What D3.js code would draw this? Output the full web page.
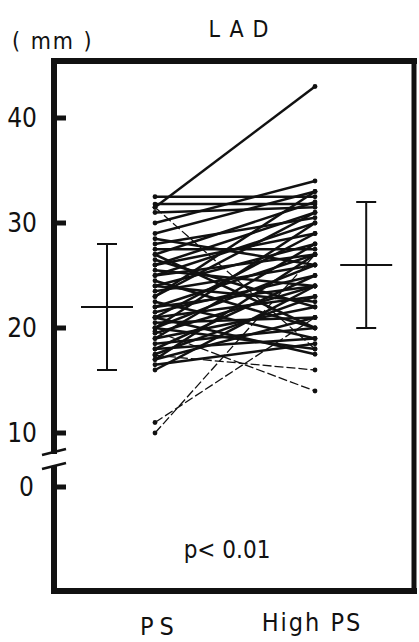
<!DOCTYPE html>
<html>
<head>
<meta charset="utf-8">
<script src="https://cdn.jsdelivr.net/npm/d3@7/dist/d3.min.js"></script>
<style>
  body { margin:0; background:#fff; }
  svg text { font-family:"Liberation Sans Narrow","DejaVu Sans Condensed",sans-serif; fill:#111; }
</style>
</head>
<body>
<svg id="svg" width="419" height="642"></svg>
<script>
// small stand-in for d3-selection-multi
d3.selection.prototype.attrs = function(o) {
  for (var k in o) this.attr(k, o[k]);
  return this;
};

var svg = d3.select("#svg");

// paired LAD values (mm), PS -> High PS
var ps     = [31.5,32.5,31.8,31,31.5,30,29,28,27.5,27,26.5,26,25.5,25,24.5,24,23.5,23,22.5,22,
              21.5,21,21,20.5,20,20,19.5,19,19,18.5,18,18,17.5,17,17,16.5,16,19.7,17.4,11,
              10,23,25,28.5,26,22,24,20,21,27];
var highPs = [43,32.5,31.8,31.5,18,34,33,30.5,27.5,32,22,29,24,30,20,28,26,31,19,27,
              25,23,29,21,26,18,24,22,28,20,25,19,23,21,27,18.5,24,14,16,21,
              27,33,27,26,31,24,22.5,30,17.5,20];
var thin   = [4,37,38,39,40];          // faint dashed lines
var groups = ["PS","High PS"];
var stats  = [{m:22, sd:6}, {m:26, sd:6}];
var yTicks = [10,20,30,40];

var ink = "#111";
var y  = d3.scaleLinear().domain([10,40]).range([433,118]);
var y0 = d3.scaleLinear().domain([0,1]).range([487,476.5]);   // below the axis break
var x  = d3.scaleLinear().domain([0,1]).range([155,315]);

// frame
var frame = svg.append("g").attr("stroke",ink).attr("fill","none");
frame.append("line").attrs({x1:54,y1:58,x2:54,y2:594,"stroke-width":6});
frame.append("line").attrs({x1:51,y1:61,x2:417,y2:61,"stroke-width":6});
frame.append("line").attrs({x1:414,y1:58,x2:414,y2:594,"stroke-width":5});
frame.append("line").attrs({x1:51,y1:591,x2:417,y2:591,"stroke-width":6});

// break in the axis
svg.append("rect").attrs({x:48,y:454,width:12,height:12,fill:"#fff"});
svg.selectAll(".brk").data([452,466]).enter().append("line")
    .attrs({x1:42,y1:d=>d+3,x2:66,y2:d=>d-3,stroke:ink,"stroke-width":2.5});

// ticks and labels
svg.selectAll(".tk").data(yTicks).enter().append("line")
    .attrs({x1:54,x2:66,y1:d=>y(d),y2:d=>y(d),stroke:ink,"stroke-width":5});
svg.selectAll(".tl").data(yTicks).enter().append("text")
    .attrs({x:37,y:d=>y(d)+9,"text-anchor":"end","font-size":26}).text(d=>d);
svg.append("line").attrs({x1:54,x2:66,y1:y0(0),y2:y0(0),stroke:ink,"stroke-width":5});
svg.append("text").attrs({x:34,y:y0(0)+9,"text-anchor":"end","font-size":26}).text("0");

// titles
svg.append("text").attrs({x:12,y:49,"font-size":23,"letter-spacing":"2px"}).text("( mm )");
svg.append("text").attrs({x:243,y:37,"font-size":23,"text-anchor":"middle","letter-spacing":"9px"}).text("LAD");
svg.append("text").attrs({x:227,y:558,"font-size":24,"text-anchor":"middle"}).text("p< 0.01");
svg.append("text").attrs({x:160,y:635,"font-size":25,"text-anchor":"middle","letter-spacing":"6px"}).text(groups[0]);
svg.append("text").attrs({x:312,y:631,"font-size":25,"text-anchor":"middle","letter-spacing":"2px"}).text(groups[1]);

// paired lines
var pairs = ps.map((v,i)=>({a:v, b:highPs[i], thin:thin.indexOf(i)>=0}));
var lg = svg.append("g");
lg.selectAll("line").data(pairs).enter().append("line")
    .attrs({x1:x(0),x2:x(1),y1:d=>y(d.a),y2:d=>y(d.b),stroke:ink,
            "stroke-width":d=>d.thin?1.3:2.5,"stroke-dasharray":d=>d.thin?"9,3":null});
lg.selectAll(".pa").data(pairs).enter().append("circle")
    .attrs({cx:x(0),cy:d=>y(d.a),r:2.4,fill:ink});
lg.selectAll(".pb").data(pairs).enter().append("circle")
    .attrs({cx:x(1),cy:d=>y(d.b),r:2.4,fill:ink});

// mean +- SD bars
var ex = [-0.3,1.32];
var eb = svg.selectAll(".eb").data(stats).enter().append("g")
    .attr("stroke",ink).attr("stroke-width",2);
eb.append("line").attrs({x1:(d,i)=>x(ex[i]),x2:(d,i)=>x(ex[i]),y1:d=>y(d.m+d.sd),y2:d=>y(d.m-d.sd)});
eb.append("line").attrs({x1:(d,i)=>x(ex[i])-10,x2:(d,i)=>x(ex[i])+10,y1:d=>y(d.m+d.sd),y2:d=>y(d.m+d.sd)});
eb.append("line").attrs({x1:(d,i)=>x(ex[i])-10,x2:(d,i)=>x(ex[i])+10,y1:d=>y(d.m-d.sd),y2:d=>y(d.m-d.sd)});
eb.append("line").attrs({x1:(d,i)=>x(ex[i])-26,x2:(d,i)=>x(ex[i])+26,y1:d=>y(d.m),y2:d=>y(d.m)});
</script>
</body>
</html>
